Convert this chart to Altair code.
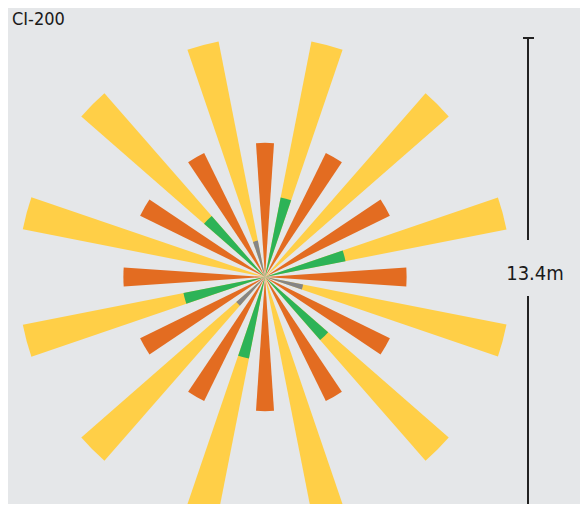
import math
import altair as alt
import pandas as pd

# ---- data (metres) ----
title_text = "CI-200"
scale_label = "13.4m"
scale_length_m = 13.4

orange_angles = [0, 30, 60, 90, 120, 150, 180, 210, 240, 270, 300, 330]
orange_reach = [3.76, 3.87, 3.90, 3.97, 3.90, 3.87, 3.76, 3.87, 3.90, 3.97, 3.90, 3.87]

yellow_angles = [15, 45, 75, 105, 135, 165, 195, 225, 255, 285, 315, 345]
yellow_reach = [6.73, 6.84, 6.90, 6.90, 6.84, 6.84, 6.84, 6.84, 6.92, 6.92, 6.84, 6.73]

inner_angles = [15, 75, 105, 135, 195, 225, 255, 315, 345]
inner_reach = [2.27, 2.30, 1.09, 2.35, 2.33, 1.07, 2.33, 2.27, 1.04]
inner_kind = ["green", "green", "gray", "green", "green", "gray", "green", "green", "gray"]

kinds = ["yellow", "orange", "green", "gray"]
kind_colors = ["#FFCF47", "#E36C21", "#2DB357", "#858585"]

HALF_W = 3.85  # half wedge width in degrees


def rows(angles, reach, kind):
    out = []
    for i, (a, r) in enumerate(zip(angles, reach)):
        k = kind[i] if isinstance(kind, list) else kind
        out.append({"kind": k, "angle": a, "t0": a - HALF_W, "t1": a + HALF_W,
                    "r0": 0.0, "r1": r})
    return out


base_df = pd.DataFrame(rows(yellow_angles, yellow_reach, "yellow") +
                       rows(orange_angles, orange_reach, "orange"))
inner_df = pd.DataFrame(rows(inner_angles, inner_reach, inner_kind))

CX, CY, R_PX = 257, 269, 239

theta_scale = alt.Scale(type="linear", domain=[0, 360], range=[0, 2 * math.pi], nice=False, zero=False)
radius_scale = alt.Scale(type="linear", domain=[0, scale_length_m / 2], range=[0, R_PX], nice=False)
color_scale = alt.Scale(domain=kinds, range=kind_colors)


def wedges(df):
    return alt.Chart(df).mark_arc().encode(
        theta=alt.Theta("t0:Q", scale=theta_scale, stack=None),
        theta2="t1:Q",
        radius=alt.Radius("r1:Q", scale=radius_scale, stack=None),
        radius2="r0:Q",
        color=alt.Color("kind:N", scale=color_scale, legend=None),
        x=alt.value(CX),
        y=alt.value(CY),
    )


FONT = "Liberation Sans Narrow, DejaVu Sans Condensed, Roboto Condensed, sans-serif"

title = alt.Chart(pd.DataFrame({"t": [title_text]})).mark_text(
    align="left", baseline="alphabetic", fontSize=18, font=FONT, color="#1a1a1a"
).encode(text="t:N", x=alt.value(4), y=alt.value(17))

label = alt.Chart(pd.DataFrame({"t": [scale_label]})).mark_text(
    align="center", baseline="alphabetic", fontSize=20, font=FONT, color="#1a1a1a"
).encode(text="t:N", x=alt.value(527), y=alt.value(272))

bar_top = alt.Chart(pd.DataFrame({"a": [0]})).mark_rule(color="#222222", strokeWidth=2).encode(
    x=alt.value(520), y=alt.value(CY - R_PX), y2=alt.value(232))
bar_bottom = alt.Chart(pd.DataFrame({"a": [0]})).mark_rule(color="#222222", strokeWidth=2).encode(
    x=alt.value(520), y=alt.value(288), y2=alt.value(CY + R_PX))
bar_cap = alt.Chart(pd.DataFrame({"a": [0]})).mark_rule(color="#222222", strokeWidth=2).encode(
    x=alt.value(515), x2=alt.value(526), y=alt.value(CY - R_PX))

chart = alt.layer(
    wedges(base_df), wedges(inner_df), title, label, bar_top, bar_bottom, bar_cap
).properties(
    width=572, height=496, padding=0,
    autosize=alt.AutoSizeParams(type="none"),
    background="#E5E7E9",
).configure_view(stroke=None)

chart.save("out.html", embed_options={"renderer": "svg", "actions": False})
